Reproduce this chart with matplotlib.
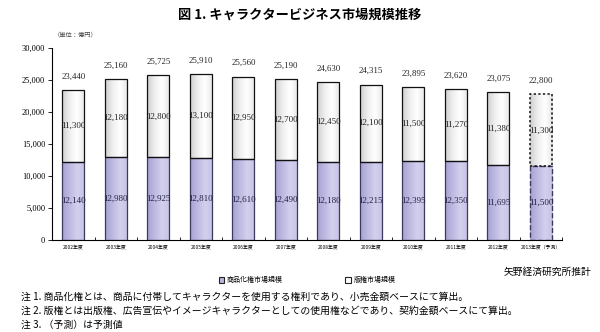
import matplotlib
matplotlib.use("Agg")
import matplotlib.pyplot as plt
import numpy as np
from matplotlib.patches import Rectangle
from matplotlib.colors import LinearSegmentedColormap

plt.rcParams['font.family'] = ['Noto Sans CJK JP', 'DejaVu Sans']

years = ["2002年度", "2003年度", "2004年度", "2005年度", "2006年度", "2007年度",
         "2008年度", "2009年度", "2010年度", "2011年度", "2012年度", "2013年度（予測）"]
merch = [12140, 12980, 12925, 12810, 12610, 12490, 12180, 12215, 12395, 12350, 11695, 11500]
rights = [11300, 12180, 12800, 13100, 12950, 12700, 12450, 12100, 11500, 11270, 11380, 11300]
totals = [23440, 25160, 25725, 25910, 25560, 25190, 24630, 24315, 23895, 23620, 23075, 22800]
yticks = [0, 5000, 10000, 15000, 20000, 25000, 30000]

purple = "#b9b5dd"
edge = "#3a3a5a"
serif = "Liberation Serif"
cm_p = LinearSegmentedColormap.from_list("p", ["#a7a2d4", "#bdb9e0", "#d3d0ee", "#c6c2e6"])
cm_w = LinearSegmentedColormap.from_list("w", ["#cfcfcf", "#efefef", "#ffffff", "#e6e6e6"])
grad = np.linspace(0, 1, 64).reshape(1, -1)

fig = plt.figure(figsize=(6.0, 3.32), dpi=100)
ax = fig.add_axes([0.087, 0.277, 0.85, 0.578])

x = np.arange(len(years))
w = 0.52
n = len(years)
for i in range(n):
    last = i == n - 1
    b1 = ax.bar(x[i], merch[i], w, color=purple, edgecolor=edge, linewidth=1.0 if last else 0.9,
                linestyle='--' if last else '-', zorder=3)
    b2 = ax.bar(x[i], rights[i], w, bottom=merch[i], color="#f2f2f2", edgecolor="#111111",
                linewidth=1.1 if last else 0.9, linestyle=(0, (1.5, 1.5)) if last else '-', zorder=3)
    for bc, cm in ((b1, cm_p), (b2, cm_w)):
        p = bc.patches[0]
        p.set_facecolor("none")
        x0, y0 = p.get_x(), p.get_y()
        im = ax.imshow(grad, cmap=cm, aspect='auto', extent=(x0, x0 + p.get_width(), y0, y0 + p.get_height()),
                       zorder=2, interpolation='bilinear')
        im.set_clip_path(p)
    ax.text(x[i], merch[i] / 2, f"{merch[i]:,}", ha='center', va='center', fontsize=6.5,
            family=serif, color="#222244", zorder=4)
    ax.text(x[i], merch[i] + rights[i] / 2, f"{rights[i]:,}", ha='center', va='center', fontsize=6.5,
            family=serif, color="#222222", zorder=4)
    ax.text(x[i], totals[i] + 1500, f"{totals[i]:,}", ha='center', va='bottom', fontsize=6.3,
            family=serif, color="#222222", zorder=4)

ax.set_xlim(-0.5, n - 0.5)
ax.set_ylim(0, 30000)
ax.set_yticks(yticks)
ax.set_yticklabels([f"{v:,}" for v in yticks], family=serif, fontsize=6)
ax.set_xticks(x)
ax.set_xticklabels(years, fontsize=3.5)
ax.set_xticks(np.arange(-0.5, n, 1.0), minor=True)
ax.tick_params(axis='x', which='major', length=0, pad=3)
ax.tick_params(axis='x', which='minor', length=2.5, direction='in', width=0.6)
ax.tick_params(axis='y', length=3, direction='out', width=0.6, pad=2)
for s in ['top', 'right']:
    ax.spines[s].set_visible(False)
ax.spines['left'].set_linewidth(0.8)
ax.spines['bottom'].set_linewidth(0.8)

fig.text(0.5, 0.955, "図 1. キャラクタービジネス市場規模推移", ha='center', va='center',
         fontsize=9.5, fontweight='bold')
fig.text(0.125, 0.895, "（単位：億円）", ha='center', va='center', fontsize=4.5, color="#444444")

# legend
ax.legend(handles=[Rectangle((0, 0), 1, 1, facecolor=purple, edgecolor="#222222", linewidth=0.8),
                   Rectangle((0, 0), 1, 1, facecolor="white", edgecolor="#222222", linewidth=0.8)],
          labels=["商品化権市場規模", "版権市場規模"], loc='center', bbox_to_anchor=(0.5, -0.21),
          ncol=2, frameon=False, fontsize=5, handlelength=0.8, handleheight=0.8,
          columnspacing=9, handletextpad=0.4)

fig.text(0.985, 0.18, "矢野経済研究所推計", ha='right', va='center', fontsize=7)
notes = ["注 1. 商品化権とは、商品に付帯してキャラクターを使用する権利であり、小売金額ベースにて算出。",
         "注 2. 版権とは出版権、広告宣伝やイメージキャラクターとしての使用権などであり、契約金額ベースにて算出。",
         "注 3. （予測）は予測値"]
for k, t in enumerate(notes):
    fig.text(0.035, 0.105 - k * 0.042, t, ha='left', va='center', fontsize=7.1)

fig.savefig("out.png", dpi=100, facecolor="white")
